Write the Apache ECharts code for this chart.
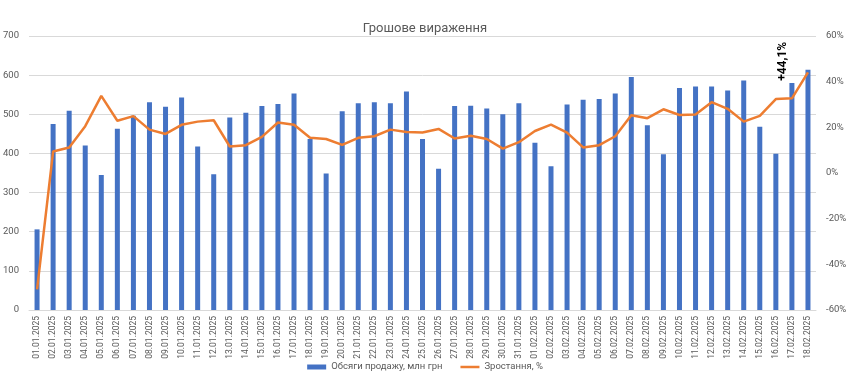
<!DOCTYPE html>
<html><head><meta charset="utf-8">
<script src="https://cdn.jsdelivr.net/npm/echarts@6/dist/echarts.min.js"></script>
<style>html,body{margin:0;padding:0;background:#fff}#c{width:850px;height:385px}</style>
</head><body><div id="c"></div>
<script>
var categories = ['01.01.2025','02.01.2025','03.01.2025','04.01.2025','05.01.2025','06.01.2025','07.01.2025','08.01.2025','09.01.2025','10.01.2025','11.01.2025','12.01.2025','13.01.2025','14.01.2025','15.01.2025','16.01.2025','17.01.2025','18.01.2025','19.01.2025','20.01.2025','21.01.2025','22.01.2025','23.01.2025','24.01.2025','25.01.2025','26.01.2025','27.01.2025','28.01.2025','29.01.2025','30.01.2025','31.01.2025','01.02.2025','02.02.2025','03.02.2025','04.02.2025','05.02.2025','06.02.2025','07.02.2025','08.02.2025','09.02.2025','10.02.2025','11.02.2025','12.02.2025','13.02.2025','14.02.2025','15.02.2025','16.02.2025','17.02.2025','18.02.2025'];
var sales = [206,475,509,420,345,463,496,531,519,543,418,347,492,504,521,526,553,437,349,508,528,531,528,558,437,361,521,522,515,500,528,427,367,525,537,539,553,595,472,398,567,571,571,561,586,468,399,580,614];
var growth = [-51,9.4,11.2,20.5,33.8,22.9,24.9,19.0,17.1,21.1,22.5,23.1,11.6,12.2,15.8,22.1,21.1,15.4,14.9,12.3,15.4,16.1,19.0,18.0,17.7,19.3,15.1,16.3,14.9,10.7,13.5,18.4,21.2,17.7,11.2,12.2,16.1,25.3,24.0,27.9,25.4,25.6,31.0,28.1,22.5,25.0,32.4,32.7,44.1];
var leftTicks = {min:0, max:700, interval:100};
var rightTicks = {min:-60, max:60, interval:20};
var seriesNames = ['Обсяги продажу, млн грн','Зростання, %'];
var titleText = 'Грошове вираження';
var peakLabel = '+44,1%';

var growthData = growth.map(function(v,i){
  if(i===growth.length-1){
    return {value:v, label:{show:true, formatter:peakLabel, rotate:90, position:[-25,-11], align:'center', verticalAlign:'middle', color:'#000', fontWeight:'bold', fontSize:12, fontFamily:'Roboto'}};
  }
  return v;
});
var axisLbl = {color:'#595959', fontSize:9.5, fontFamily:'Roboto'};
var chart = echarts.init(document.getElementById('c'));
chart.setOption({
  animation:false,
  title:{text:titleText,left:'center',top:17,textStyle:{color:'#595959',fontSize:13,fontWeight:'normal',fontFamily:'Roboto'}},
  grid:{left:29,right:34,top:36,bottom:75,containLabel:false},
  legend:{bottom:8,left:'center',itemGap:18,itemWidth:19,itemHeight:5,textStyle:{color:'#595959',fontSize:9.5,fontFamily:'Roboto'},
    data:[{name:seriesNames[0],icon:'rect'},{name:seriesNames[1],icon:'path://M0,0 L38,0 L38,5 L0,5 Z'}]},
  xAxis:{type:'category',data:categories,axisTick:{show:false},axisLine:{lineStyle:{color:'#d9d9d9'}},
    axisLabel:{rotate:90,interval:0,color:'#595959',fontSize:8.5,fontFamily:'Roboto',margin:6}},
  yAxis:[
    {type:'value',min:leftTicks.min,max:leftTicks.max,interval:leftTicks.interval,axisLabel:Object.assign({margin:10},axisLbl),
     splitLine:{lineStyle:{color:'#d9d9d9'}},axisLine:{show:false},axisTick:{show:false}},
    {type:'value',min:rightTicks.min,max:rightTicks.max,interval:rightTicks.interval,
     axisLabel:Object.assign({margin:10,formatter:function(v){return v+'%';}},axisLbl),
     splitLine:{show:false},axisLine:{show:false},axisTick:{show:false}}
  ],
  series:[
    {name:seriesNames[0],type:'bar',data:sales,barWidth:5,itemStyle:{color:'#4472C4'},yAxisIndex:0},
    {name:seriesNames[1],type:'line',data:growthData,yAxisIndex:1,symbol:'circle',symbolSize:0.01,showSymbol:true,
     lineStyle:{color:'#ED7D31',width:2.5},itemStyle:{color:'#ED7D31'},labelLayout:{hideOverlap:false}}
  ]
});
</script></body></html>
